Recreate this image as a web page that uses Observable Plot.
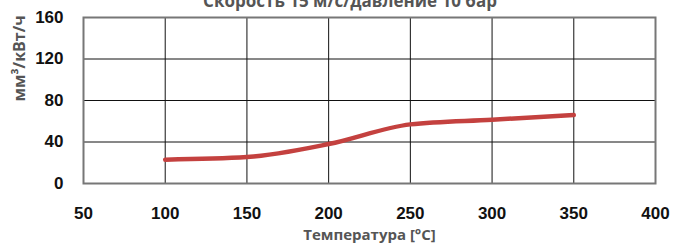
<!DOCTYPE html>
<html>
<head>
<meta charset="utf-8">
<script src="https://cdn.jsdelivr.net/npm/d3@7"></script>
<script src="https://cdn.jsdelivr.net/npm/@observablehq/plot@0.6"></script>
<style>
  html, body { margin: 0; padding: 0; background: #fff; overflow: hidden; }
  #wrap { position: relative; width: 673px; height: 244px; }
  #title { position: absolute; left: 0; width: 700px; top: -11px; text-align: center;
           font: bold 17px "Open Sans", sans-serif; color: #555; white-space: nowrap; }
</style>
</head>
<body>
<div id="wrap">
  <div id="chart"></div>
  <div id="title">Скорость 15 м/с/давление 10 бар</div>
</div>
<script>
const title = "Скорость 15 м/с/давление 10 бар";
const xLabel = "Температура [°C]";
const yLabel = "мм³/кВт/ч";
const temperature = [100, 150, 200, 250, 300, 350];
const consumption = [23, 25.5, 38, 57, 61.5, 66];
const xTicks = [50, 100, 150, 200, 250, 300, 350, 400];
const yTicks = [0, 40, 80, 120, 160];

document.getElementById("title").textContent = title;
const data = temperature.map((t, i) => ({t, v: consumption[i]}));

const plot = Plot.plot({
  width: 673,
  height: 244,
  marginLeft: 83,
  marginRight: 18,
  marginTop: 17,
  marginBottom: 61,
  style: {fontFamily: "'Liberation Sans', Arial, sans-serif", background: "transparent"},
  x: {domain: [50, 400]},
  y: {domain: [0, 160]},
  marks: [
    Plot.ruleX(xTicks.slice(1, -1), {stroke: "#111", strokeWidth: 1}),
    Plot.ruleY(yTicks.slice(1, -1), {stroke: "#111", strokeWidth: 1}),
    Plot.frame({stroke: "#777", strokeWidth: 2}),
    Plot.axisX(xTicks, {tickSize: 0, tickPadding: 23, fontSize: 17, fontWeight: "bold", fill: "#111", label: null}),
    Plot.axisY(yTicks, {tickSize: 0, tickPadding: 20, fontSize: 17, fontWeight: "bold", fill: "#111", label: null}),
    Plot.text([xLabel], {frameAnchor: "bottom", x: () => 225, dy: 56.5, fontSize: 15, fontWeight: "bold", fill: "#555", fontFamily: "'Open Sans', sans-serif"}),
    Plot.text([yLabel], {frameAnchor: "left", dx: -64, dy: 0, y: () => 79, rotate: -90, fontSize: 16, fontWeight: "bold", fill: "#555", fontFamily: "'Open Sans', sans-serif"}),
    Plot.line(data, {x: "t", y: "v", stroke: "#c4413f", strokeWidth: 4.5, curve: "monotone-x", strokeLinecap: "round"})
  ]
});
document.getElementById("chart").appendChild(plot);
</script>
</body>
</html>
